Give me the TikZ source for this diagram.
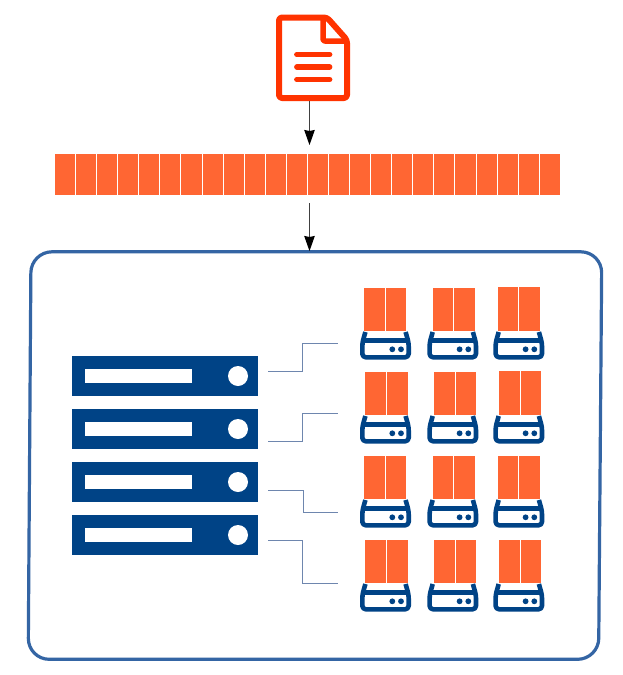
\documentclass[tikz,border=0pt]{standalone}
\usetikzlibrary{arrows.meta}
\definecolor{blockorange}{HTML}{FF6633}
\definecolor{docred}{HTML}{FF3300}
\definecolor{navy}{HTML}{004386}
\definecolor{frameblue}{HTML}{3465A4}
\definecolor{linkblue}{HTML}{6E86AE}
\tikzset{
  ghost/.style={inner sep=0pt,outer sep=0pt,draw=none,fill=none},
  blockfill/.style={fill=blockorange,draw=none},
  cellgap/.style={draw=white,line width=0.9pt},
  flow/.style={draw=black!75,line width=1pt,-{Stealth[length=15pt,width=10.5pt,inset=1pt,fill=black,color=black]}},
  link/.style={draw=linkblue,line width=1pt},
  drivebody/.style={draw=navy,line width=4.6pt,rounded corners=3.5pt,line join=round},
  serverbox/.style={inner sep=0pt,outer sep=0pt,fill=navy,minimum width=186pt,minimum height=40pt},
  docline/.style={draw=docred,line width=5.8pt,line cap=round}
}
% #1 name, #2 drive left, #3 drive top, #4 block left (relative), #5 block top (relative)
\newcommand{\drivecell}[5]{%
  \begin{scope}[shift={(#2,#3)}]
    \fill[blockfill] (#4,#5) rectangle (#4+42.3,0);
    \draw[cellgap] (#4+21.2,#5) -- (#4+21.2,0);
    \draw[drivebody] (5.4,1) -- (2.3,12) -- (2.3,26.3) -- (48.7,26.3) -- (48.7,12) -- (45.6,1);
    \draw[draw=navy,line width=4.8pt] (2.3,9.5) -- (48.7,9.5);
    \fill[navy] (32.3,18.3) circle (2.9);
    \fill[navy] (41,18.3) circle (2.9);
    \node[ghost,minimum width=51pt,minimum height=29pt] (#1) at (25.5,14.5) {};
  \end{scope}}
% #1 name, #2 top
\newcommand{\serverrow}[2]{%
  \node[serverbox,anchor=north west] (#1) at (72,#2) {};
  \fill[white] (85,#2+13) rectangle (191.7,#2+26.7);
  \fill[white] (238,#2+20) circle (10);
}
\begin{document}
\begin{tikzpicture}[x=1pt,y=-1pt]
\useasboundingbox (0,0) rectangle (623,675);
\fill[white] (0,0) rectangle (623,675);

% container
\node[ghost,minimum width=571pt,minimum height=407pt] (frame) at (315,455.5) {};
\draw[draw=frameblue,line width=3.2pt,rounded corners=21pt]
  (31,251.8) -- (601.8,251.8) -- (598.6,659.3) -- (28.2,659.3) -- cycle;

% document icon
\node[ghost,minimum width=74pt,minimum height=86pt] (doc) at (313,58) {};
\draw[draw=docred,line width=6pt,line join=round,rounded corners=3pt]
  (279,17.5) -- (327,17.5) -- (347,40) -- (347,98) -- (279,98) -- cycle;
\draw[draw=docred,line width=5.5pt,line join=round,rounded corners=2pt]
  (323,18) -- (323,41) -- (347,41);
\draw[docline] (297,54.5) -- (329.5,54.5);
\draw[docline] (297,67) -- (329.5,67);
\draw[docline] (297,79.5) -- (329.5,79.5);

% strip
\node[ghost,blockfill,minimum width=505pt,minimum height=41pt] (strip) at (307.5,174.5) {};
\foreach \k in {0,...,22}
  \draw[cellgap] (75.5+\k*21.08,154) -- (75.5+\k*21.08,195);

% arrows
\draw[flow] ([xshift=-3.5pt]doc.south) -- ([xshift=2pt,yshift=9pt]strip.north);
\draw[flow] ([xshift=2pt,yshift=-8pt]strip.south) -- ([xshift=-5.5pt,yshift=1pt]frame.north);

% servers
\serverrow{s1}{356}
\serverrow{s2}{409}
\serverrow{s3}{462}
\serverrow{s4}{515}

% drives
\drivecell{d11}{360}{331}{4}{-43}
\drivecell{d12}{427.3}{331}{5.4}{-43}
\drivecell{d13}{493.3}{331}{4.4}{-44.3}
\drivecell{d21}{360}{415}{5.3}{-43}
\drivecell{d22}{427.3}{415}{6.7}{-43.3}
\drivecell{d23}{493.3}{415}{5.7}{-44.3}
\drivecell{d31}{360}{499}{4}{-43}
\drivecell{d32}{427.3}{499}{5.4}{-43}
\drivecell{d33}{493.3}{499}{4.4}{-43}
\drivecell{d41}{360}{583}{5.3}{-43}
\drivecell{d42}{427.3}{583}{6.7}{-43}
\drivecell{d43}{493.3}{583}{5.7}{-43}

% links
\draw[link] ([xshift=10pt,yshift=5pt]s1.east) -- ++(34.5,0) |- ([xshift=-22pt,yshift=2.5pt]d11.west);
\draw[link] ([xshift=10pt,yshift=-12pt]s2.east) -- ++(34.5,0) |- ([xshift=-22pt,yshift=16.5pt]d21.west);
\draw[link] ([xshift=10pt,yshift=-8.5pt]s3.east) -- ++(35,0) |- ([xshift=-22pt,yshift=1pt]d31.west);
\draw[link] ([xshift=10pt,yshift=-5pt]s4.east) -- ++(34.5,0) |- ([xshift=-22pt,yshift=14pt]d41.west);
\end{tikzpicture}
\end{document}
